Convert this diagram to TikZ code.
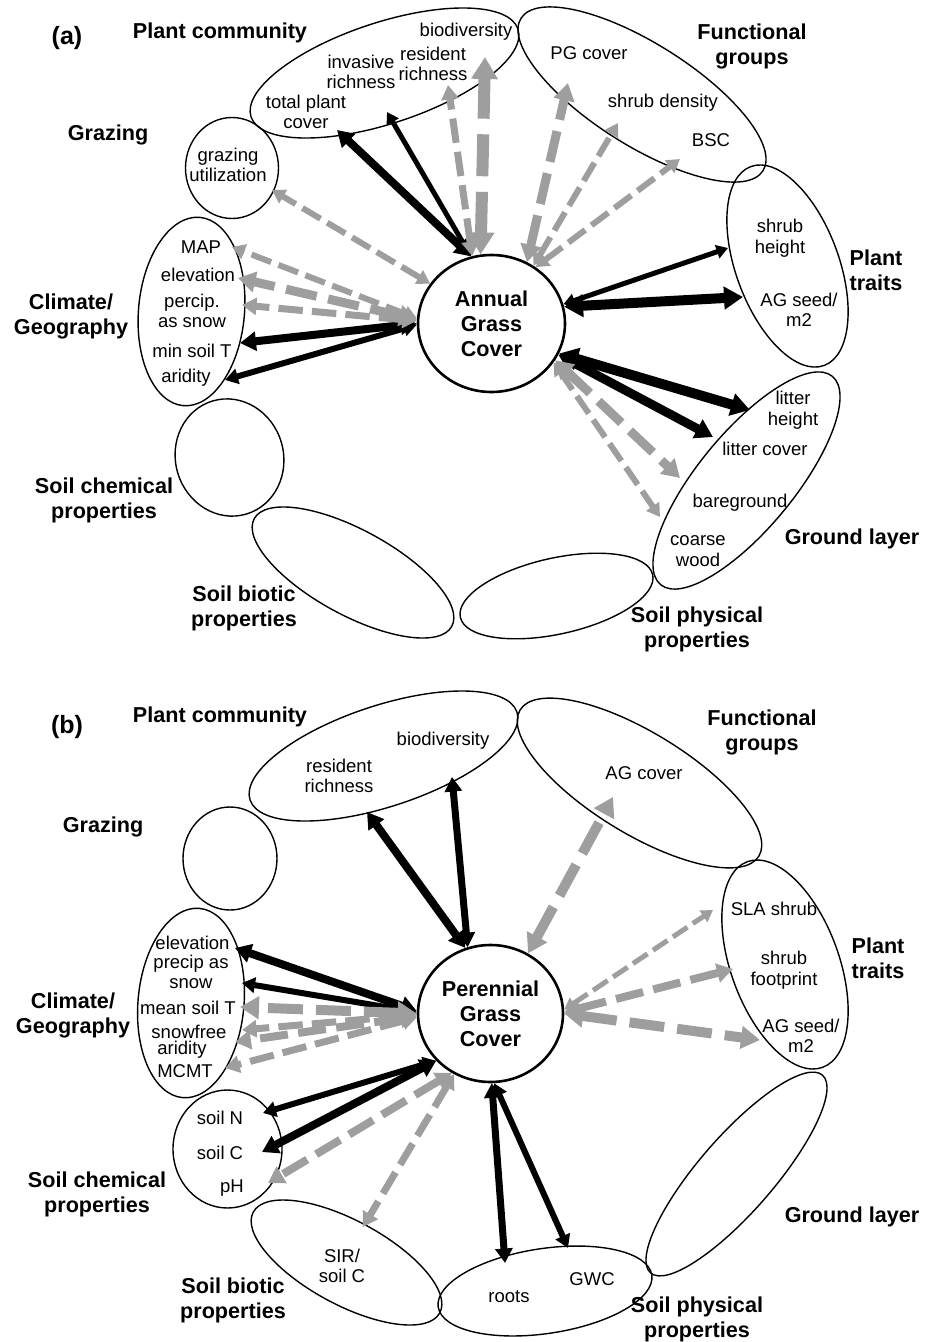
\documentclass[tikz,border=0pt]{standalone}
\usepackage{fontspec}
\setmainfont{Liberation Sans}
\usetikzlibrary{shapes.geometric, arrows.meta}
\definecolor{arrgray}{RGB}{158,158,158}

\begin{document}
\begin{tikzpicture}[
    x=1pt, y=-1pt,
    >={Triangle[length=4pt 1.5, width=5pt 1.7]},
    grp/.style={draw=black, ellipse, line width=1.4pt, inner sep=0pt},
    hub/.style={draw=black, ellipse, line width=2.6pt, inner sep=0pt, minimum width=147, minimum height=137, align=center, font=\fontsize{21.6}{25}\selectfont\bfseries},
    grplab/.style={align=center, font=\fontsize{21.6}{25}\selectfont\bfseries},
    item/.style={align=center, inner sep=1pt, font=\fontsize{18.5}{20.5}\selectfont},
    tag/.style={font=\fontsize{25}{28}\selectfont\bfseries},
    karr/.style={draw=black, line width=#1, <->},
    garr/.style={draw=arrgray, line width=#1, dash pattern=on 3.5*#1 off 1.3*#1, <->}
  ]

    \useasboundingbox (0,0) rectangle (933,1342);

    % ================= (a) Annual grass cover =================
    \node[tag] (tagA) at (67,38) {(a)};

    % Group outlines
    \node[grp, minimum width=281, minimum height=101, rotate=18.2] (pcA) at (384.5,73) {};
    \node[grp, minimum width=286, minimum height=102, rotate=-32.2] (fgA) at (642,94.5) {};
    \node[grp, minimum width=212, minimum height=103, rotate=-69.8] (ptA) at (787.5,266) {};
    \node[grp, minimum width=270, minimum height=96, rotate=50.5] (glA) at (746.5,480.5) {};
    \node[grp, minimum width=197, minimum height=76, rotate=12.5] (spA) at (556.5,596) {};
    \node[grp, minimum width=225, minimum height=85, rotate=-28.6] (sbA) at (353,572.5) {};
    \node[grp, minimum width=118, minimum height=108, rotate=-73.5] (scA) at (229.5,457.5) {};
    \node[grp, minimum width=189, minimum height=106, rotate=85] (clA) at (191.5,311.5) {};
    \node[grp, minimum width=93, minimum height=101] (grA) at (232,168) {};

    % Response node
    \node[hub] (agcA) at (491.5,323.5) {Annual\\Grass\\Cover};

    % Group labels
    \node[grplab] (pcAlab) at (220,33) {Plant community};
    \node[grplab] (fgAlab) at (752,46) {Functional\\groups};
    \node[grplab] (ptAlab) at (876,270) {Plant\\traits};
    \node[grplab] (glAlab) at (852,539) {Ground layer};
    \node[grplab] (spAlab) at (697,629) {Soil physical\\properties};
    \node[grplab] (sbAlab) at (244,608) {Soil biotic\\properties};
    \node[grplab] (scAlab) at (104,500) {Soil chemical\\properties};
    \node[grplab] (clAlab) at (71,316) {Climate/\\Geography};
    \node[grplab] (grAlab) at (108,135) {Grazing};

    % Variables
    \node[item] (bioA) at (466,32) {biodiversity};
    \node[item] (resA) at (433,64) {resident\\richness};
    \node[item] (invA) at (361,72) {invasive\\richness};
    \node[item] (tpcA) at (306,112) {total plant\\cover};
    \node[item] (pgcovA) at (589,53) {PG cover};
    \node[item] (shdA) at (663,103) {shrub density};
    \node[item] (bscA) at (711,140) {BSC};
    \node[item] (shhA) at (780,238) {shrub\\height};
    \node[item] (agsA) at (799,310) {AG seed/\\m2};
    \node[item] (lthA) at (793,410) {litter\\height};
    \node[item] (ltcA) at (765,449) {litter cover};
    \node[item] (bgrA) at (740,503) {bareground};
    \node[item] (cwdA) at (698,551) {coarse\\wood};
    \node[item] (gutA) at (228,165) {grazing\\utilization};
    \node[item] (mapA) at (201,247) {MAP};
    \node[item] (eleA) at (198,275) {elevation};
    \node[item] (psnA) at (192,311) {percip.\\as snow};
    \node[item] (mstA) at (192,351) {min soil T};
    \node[item] (ariA) at (186,378) {aridity};

    % Positive links (black)
    \draw[karr=8] (agcA.107) -- ([shift={(31,18)}]tpcA.center);
    \draw[karr=5] (agcA.107) -- ([shift={(26,40)}]invA.center);
    \draw[karr=5] (agcA.15) -- ([shift={(-52,10)}]shhA.center);
    \draw[karr=10] (agcA.13) -- ([shift={(-56,-13)}]agsA.center);
    \draw[karr=10] (agcA.-24) -- ([shift={(-43,0)}]lthA.center);
    \draw[karr=9] (agcA.-25) -- ([shift={(-52,-12)}]ltcA.center);
    \draw[karr=8] (agcA.180) -- ([shift={(48,-8)}]mstA.center);
    \draw[karr=6] (agcA.181) -- ([shift={(39,2)}]ariA.center);

    % Negative links (grey, dashed)
    \draw[garr=7] (agcA.106) -- ([shift={(15,21)}]resA.center);
    \draw[garr=12] (agcA.99) -- ([shift={(19,25)}]bioA.center);
    \draw[garr=9] (agcA.60) -- ([shift={(-21,30)}]pgcovA.center);
    \draw[garr=6] (agcA.54) -- ([shift={(-45,20)}]shdA.center);
    \draw[garr=6] (agcA.52) -- ([shift={(-31,19)}]bscA.center);
    \draw[garr=9] (agcA.-30) -- ([shift={(-60,-25)}]bgrA.center);
    \draw[garr=6] (agcA.-32) -- ([shift={(-38,-34)}]cwdA.center);
    \draw[garr=6] (agcA.147) -- ([shift={(44,25)}]gutA.center);
    \draw[garr=6] (agcA.176) -- ([shift={(31,0)}]mapA.center);
    \draw[garr=9] (agcA.177) -- ([shift={(40,3)}]eleA.center);
    \draw[garr=7] (agcA.178) -- ([shift={(50,-6)}]psnA.center);

    % ================= (b) Perennial grass cover =================
    \node[tag] (tagB) at (67,727) {(b)};

    % Group outlines
    \node[grp, minimum width=281, minimum height=101, rotate=18.2] (pcB) at (383.5,756) {};
    \node[grp, minimum width=280, minimum height=101, rotate=-31.5] (fgB) at (639.5,783) {};
    \node[grp, minimum width=219, minimum height=108, rotate=-69.9] (ptB) at (785,964.5) {};
    \node[grp, minimum width=262, minimum height=75, rotate=49] (glB) at (736.5,1174) {};
    \node[grp, minimum width=216, minimum height=85, rotate=8.5] (spB) at (545,1291) {};
    \node[grp, minimum width=212, minimum height=84, rotate=-28.4] (sbB) at (346.5,1262.5) {};
    \node[grp, minimum width=109, minimum height=118] (scB) at (227.5,1149) {};
    \node[grp, minimum width=190, minimum height=106, rotate=85] (clB) at (191,1003) {};
    \node[grp, minimum width=94, minimum height=103] (grB) at (230,858.5) {};

    % Response node
    \node[hub, minimum width=145] (pgcB) at (490.5,1013.5) {Perennial\\Grass\\Cover};

    % Group labels
    \node[grplab] (pcBlab) at (220,717) {Plant community};
    \node[grplab] (fgBlab) at (762,732) {Functional\\groups};
    \node[grplab] (ptBlab) at (878,958) {Plant\\traits};
    \node[grplab] (glBlab) at (852,1217) {Ground layer};
    \node[grplab] (spBlab) at (697,1319) {Soil physical\\properties};
    \node[grplab] (sbBlab) at (233,1300) {Soil biotic\\properties};
    \node[grplab] (scBlab) at (97,1194) {Soil chemical\\properties};
    \node[grplab] (clBlab) at (73,1015) {Climate/\\Geography};
    \node[grplab] (grBlab) at (103,827) {Grazing};

    % Variables
    \node[item] (bioB) at (443,741) {biodiversity};
    \node[item] (resB) at (339,776) {resident\\richness};
    \node[item] (agcovB) at (644,773) {AG cover};
    \node[item] (slaB) at (774,909) {SLA shrub};
    \node[item] (sfpB) at (784,970) {shrub\\footprint};
    \node[item] (agsB) at (801,1036) {AG seed/\\m2};
    \node[item] (eleB) at (192.5,943) {elevation};
    \node[item] (psnB) at (191,972) {precip as\\snow};
    \node[item] (mstB) at (188,1008) {mean soil T};
    \node[item] (sfrB) at (189,1032) {snowfree};
    \node[item] (ariB) at (182,1050) {aridity};
    \node[item] (mcmB) at (185,1071) {MCMT};
    \node[item] (snB) at (220,1118) {soil N};
    \node[item] (soilcB) at (220,1153) {soil C};
    \node[item] (phB) at (232,1188) {pH};
    \node[item] (sirB) at (342,1266) {SIR/\\soil C};
    \node[item] (rtsB) at (509,1297) {roots};
    \node[item] (gwcB) at (592,1279) {GWC};

    % Positive links (black)
    \draw[karr=8] (pgcB.111) -- ([shift={(28,36)}]resB.center);
    \draw[karr=7] (pgcB.109) -- ([shift={(9,36)}]bioB.center);
    \draw[karr=8] (pgcB.178) -- ([shift={(42.5,5)}]eleB.center);
    \draw[karr=6] (pgcB.179) -- ([shift={(51,11)}]psnB.center);
    \draw[karr=6] (pgcB.221) -- ([shift={(43,-5)}]snB.center);
    \draw[karr=8] (pgcB.221) -- ([shift={(42,-1)}]soilcB.center);
    \draw[karr=7] (pgcB.-89) -- ([shift={(-4,-34)}]rtsB.center);
    \draw[karr=6] (pgcB.-87) -- ([shift={(-24,-31)}]gwcB.center);

    % Negative links (grey, dashed)
    \draw[garr=10] (pgcB.58) -- ([shift={(-31,24)}]agcovB.center);
    \draw[garr=5] (pgcB.3) -- ([shift={(-61,1)}]slaB.center);
    \draw[garr=8] (pgcB.1) -- ([shift={(-51,-1)}]sfpB.center);
    \draw[garr=10] (pgcB.0) -- ([shift={(-41,4)}]agsB.center);
    \draw[garr=10] (pgcB.180) -- ([shift={(52,-1)}]mstB.center);
    \draw[garr=7] (pgcB.181) -- ([shift={(53,-2)}]sfrB.center);
    \draw[garr=8] (pgcB.182) -- ([shift={(53,-8)}]ariB.center);
    \draw[garr=7] (pgcB.183) -- ([shift={(40,-3)}]mcmB.center);
    \draw[garr=8] (pgcB.237) -- ([shift={(36,-5)}]phB.center);
    \draw[garr=7] (pgcB.239) -- ([shift={(21,-39)}]sirB.center);

  \end{tikzpicture}
\end{document}
